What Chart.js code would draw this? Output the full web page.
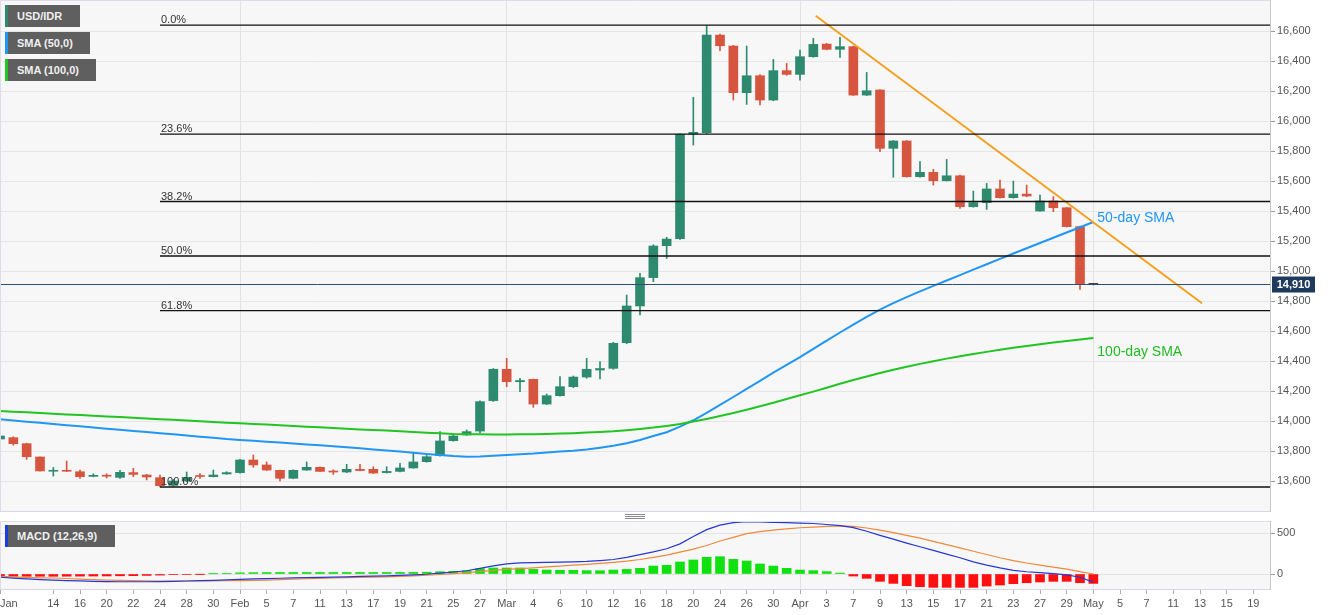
<!DOCTYPE html>
<html><head><meta charset="utf-8">
<script src="https://cdn.jsdelivr.net/npm/chart.js@4.4.0/dist/chart.umd.min.js"></script>
<style>
html,body{margin:0;padding:0;background:#fff;width:1331px;height:615px;overflow:hidden;font-family:"Liberation Sans",Arial,sans-serif;}
#wrap{position:relative;width:1331px;height:615px;}
canvas{position:absolute;left:0;}
#main{top:0;}
#macd{top:512px;}
.tag{position:absolute;left:5px;height:22px;line-height:22px;background:#5f5f5f;color:#f0f0f0;font-weight:bold;font-size:11px;padding-left:9px;box-sizing:border-box;border-left:3px solid;white-space:nowrap;z-index:2;}
#handle{position:absolute;left:625px;top:514px;width:20px;height:5px;background:repeating-linear-gradient(#8a8a8a 0 1px,transparent 1px 2px);}
</style></head>
<body><div id="wrap">
<canvas id="main" width="1331" height="512"></canvas>
<canvas id="macd" width="1331" height="103"></canvas>
<div class="tag" style="top:5px;width:75px;border-color:#2e8a6e">USD/IDR</div>
<div class="tag" style="top:32px;width:85px;border-color:#2196f3">SMA (50,0)</div>
<div class="tag" style="top:59px;width:91px;border-color:#22c422">SMA (100,0)</div>
<div class="tag" style="top:525px;width:110px;border-color:#1b3de0">MACD (12,26,9)</div>
<div id="handle"></div>
</div>
<script>
// ---------- DATA (trading-day index 0 = Jan 8, 2020) ----------
const candleOpen = [13880,13889,13849,13760,13665,13668,13662,13631,13636,13624,13656,13640,13622,13571,13600,13636,13629,13647,13656,13740,13707,13671,13618,13673,13691,13664,13660,13678,13678,13656,13664,13687,13729,13769,13869,13907,13933,14136,14345,14262,14278,14113,14169,14229,14293,14340,14351,14522,14767,14956,15169,15215,15913,15922,16573,16500,16189,16302,16140,16336,16311,16429,16513,16478,16496,16173,16207,15818,15867,15629,15658,15602,15635,15429,15456,15547,15489,15513,15400,15467,15422,15296,14910];
const candleHigh = [13930,13895,13852,13762,13690,13733,13673,13648,13648,13671,13684,13644,13640,13610,13660,13650,13673,13662,13745,13773,13727,13673,13675,13727,13695,13675,13711,13711,13695,13695,13718,13784,13770,13929,13905,13940,14135,14350,14418,14285,14280,14180,14296,14300,14418,14396,14525,14840,14984,15175,15225,15915,16158,16635,16580,16505,16500,16310,16411,16384,16473,16551,16518,16558,16500,16324,16210,15870,15870,15729,15678,15744,15640,15533,15584,15607,15600,15573,15507,15496,15425,15300,14912];
const candleLow = [13875,13838,13744,13665,13633,13663,13618,13628,13620,13618,13629,13607,13560,13565,13595,13618,13627,13645,13652,13691,13670,13600,13615,13671,13662,13644,13656,13668,13650,13653,13660,13685,13725,13765,13865,13905,13920,14130,14229,14196,14091,14110,14165,14222,14285,14280,14345,14515,14707,14929,15084,15210,15840,15915,16469,16140,16111,16107,16135,16305,16273,16425,16475,16424,16170,16170,15796,15625,15625,15625,15573,15600,15418,15425,15411,15485,15485,15495,15398,15396,15293,14878,14908];
const candleClose = [13900,13849,13762,13667,13668,13665,13629,13634,13632,13658,13644,13627,13569,13600,13624,13630,13640,13656,13740,13707,13673,13618,13671,13691,13664,13660,13678,13670,13653,13664,13687,13727,13762,13867,13900,13929,14129,14345,14262,14270,14113,14169,14229,14293,14345,14350,14518,14767,14956,15167,15213,15911,15925,16573,16502,16189,16302,16140,16336,16311,16429,16511,16478,16496,16173,16202,15818,15867,15629,15658,15602,15635,15429,15456,15547,15489,15513,15500,15467,15422,15296,14913,14910];

const sma50 = [14011,14003,13995,13988,13980,13972,13965,13957,13949,13942,13934,13926,13918,13911,13903,13895,13888,13880,13874,13868,13862,13856,13850,13844,13838,13832,13825,13818,13810,13803,13796,13788,13780,13773,13766,13762,13764,13768,13773,13778,13783,13790,13796,13801,13810,13822,13835,13852,13873,13900,13925,13962,14005,14055,14107,14160,14214,14268,14322,14374,14426,14481,14536,14590,14643,14694,14742,14786,14826,14864,14901,14937,14973,15009,15045,15081,15117,15152,15187,15222,15257,15292,15327];
const sma100 = [14067,14062,14058,14053,14049,14044,14040,14035,14030,14026,14021,14017,14012,14008,14003,13998,13994,13989,13985,13980,13976,13971,13967,13962,13958,13953,13949,13944,13940,13936,13931,13927,13922,13918,13914,13912,13911,13910,13910,13911,13912,13914,13916,13919,13923,13927,13932,13939,13947,13956,13967,13980,13996,14014,14033,14053,14075,14098,14122,14147,14172,14196,14222,14248,14273,14297,14320,14342,14362,14381,14399,14416,14432,14447,14461,14475,14488,14500,14512,14523,14533,14543,14553];

const macdLine = [-40,-50,-60,-68,-74,-80,-85,-90,-94,-95,-95,-95,-94,-90,-86,-82,-78,-72,-65,-60,-56,-52,-48,-44,-41,-37,-34,-30,-26,-22,-17,-11,-3,10,25,40,70,100,125,138,141,143,146,150,155,165,178,205,238,272,310,370,460,545,600,630,643,640,635,630,625,620,608,594,570,525,475,428,380,335,290,245,200,150,110,75,45,28,16,5,-10,-40,-100];
const signalLine = [-30,-36,-42,-47,-49,-55,-62,-68,-74,-77,-80,-83,-86,-86,-86,-86,-86,-83,-80,-77,-74,-69,-64,-58,-53,-49,-45,-41,-37,-34,-29,-22,-15,-6,5,17,29,45,56,65,76,88,98,108,118,130,143,158,178,205,232,268,305,350,405,450,495,520,540,555,568,577,585,590,585,565,540,508,475,440,400,360,320,280,240,200,165,135,110,85,60,30,0];
const macdHist = [-25,-27,-28,-28,-28,-27,-26,-25,-24,-22,-20,-17,-13,-8,-5,-2,3,8,14,17,18,19,19,19,19,19,19,19,19,19,19,20,22,28,33,41,66,74,74,74,57,49,45,45,41,41,49,57,70,98,107,148,172,205,213,180,160,123,98,70,49,41,29,12,-25,-53,-90,-115,-143,-156,-164,-164,-164,-164,-148,-135,-119,-107,-98,-90,-90,-107,-115];

const xTickDays = [0,4,6,8,10,12,14,16,18,20,22,24,26,28,30,32,34,36,38,40,42,44,46,48,50,52,54,56,58,60,62,64,66,68,70,72,74,76,78,80,82,84,86,88,90,92,94];
const xTickLabels = ['Jan','14','16','20','22','24','28','30','Feb','5','7','11','13','17','19','21','25','27','Mar','4','6','10','12','16','18','20','24','26','30','Apr','3','7','9','13','15','17','21','23','27','29','May','5','7','11','13','15','19'];
const monthStarts = [18,38,60,82];
const yTickValues = [13600,13800,14000,14200,14400,14600,14800,15000,15200,15400,15600,15800,16000,16200,16400,16600];
const macdTickValues = [0,500];

const fibHigh = 16640, fibLow = 13560, fibStartDay = 12;
const fibRatios = [0,0.236,0.382,0.5,0.618,1];
const fibLabels = ['0.0%','23.6%','38.2%','50.0%','61.8%','100.0%'];
const trendDays = [61.18,90.15];
const trendValues = [16702,14785];
const lastPrice = 14910;
const lastPriceLabel = '14,910';
const smaLabels = ['50-day SMA','100-day SMA'];

// ---------- RANGES ----------
const xMin = 0, xMax = 95.25;
const yMin = 13400, yMax = 16807;
const macdMin = -184, macdMax = 651;

// ---------- CHART ----------
Chart.defaults.font.family = '"Liberation Sans", Arial, sans-serif';
const GREEN = '#2e8a6e', RED = '#d6553f', DOJI = '#1a1a1a';
const candleColor = i => candleClose[i] > candleOpen[i] ? GREEN : (candleClose[i] < candleOpen[i] ? RED : DOJI);
const days = candleOpen.map((_, i) => i);
const noPad = s => { s.paddingTop = 0; s.paddingBottom = 0; s.paddingLeft = 0; s.paddingRight = 0; };

const panelPlugin = {
  id: 'panel',
  beforeDraw(chart) {
    const {ctx, chartArea: a} = chart;
    ctx.save();
    ctx.fillStyle = '#f7f7f8';
    ctx.fillRect(a.left, a.top, a.right - a.left, a.bottom - a.top);
    ctx.restore();
  },
  afterDraw(chart) {
    const {ctx, chartArea: a} = chart;
    ctx.save();
    ctx.strokeStyle = '#dcdde8'; ctx.lineWidth = 1;
    ctx.beginPath();
    ctx.moveTo(a.left + 0.5, a.bottom); ctx.lineTo(a.left + 0.5, a.top + 0.5); ctx.lineTo(a.right, a.top + 0.5);
    ctx.stroke();
    ctx.restore();
  }
};

const notesPlugin = {
  id: 'notes',
  afterDraw(chart) {
    const {ctx, chartArea: a, scales: {x, y}} = chart;
    ctx.save();
    ctx.font = '11px "Liberation Sans", Arial, sans-serif';
    ctx.fillStyle = '#333'; ctx.textAlign = 'left'; ctx.textBaseline = 'alphabetic';
    fibRatios.forEach((r, i) => {
      const lvl = fibHigh - r * (fibHigh - fibLow);
      ctx.fillText(fibLabels[i], x.getPixelForValue(fibStartDay) + 1, y.getPixelForValue(lvl) - 2);
    });
    const last = sma50.length - 1;
    ctx.font = '14px "Liberation Sans", Arial, sans-serif';
    ctx.fillStyle = '#2196f3';
    ctx.fillText(smaLabels[0], x.getPixelForValue(last) + 4, y.getPixelForValue(sma50[last]));
    ctx.fillStyle = '#22bb22';
    ctx.fillText(smaLabels[1], x.getPixelForValue(last) + 4, y.getPixelForValue(sma100[last]) + 18);
    const py = y.getPixelForValue(lastPrice);
    ctx.fillStyle = '#1e3a5c';
    ctx.fillRect(a.right + 2, py - 8, 43, 16);
    ctx.fillStyle = '#fff'; ctx.font = 'bold 11px "Liberation Sans", Arial, sans-serif';
    ctx.textAlign = 'center'; ctx.textBaseline = 'middle';
    ctx.fillText(lastPriceLabel, a.right + 2 + 21.5, py + 0.5);
    ctx.restore();
  }
};

const lineDs = (data, color, width, order) => ({
  type: 'line', data, borderColor: color, borderWidth: width, pointRadius: 0,
  fill: false, tension: 0, order
});

const fibDatasets = fibRatios.map(r => {
  const lvl = fibHigh - r * (fibHigh - fibLow);
  return lineDs([{x: fibStartDay, y: lvl}, {x: xMax, y: lvl}], '#111', 1.3, 0);
});

new Chart(document.getElementById('main'), {
  type: 'bar',
  data: {
    datasets: [
      {type: 'bar', data: days.map(i => ({x: i, y: [candleLow[i], candleHigh[i]]})),
       backgroundColor: days.map(candleColor), barThickness: 1, grouped: false, order: 3},
      {type: 'bar', data: days.map(i => ({x: i, y: [candleOpen[i], candleClose[i]]})),
       backgroundColor: days.map(candleColor), barThickness: 9, minBarLength: 1, grouped: false, order: 2},
      lineDs(days.map(i => ({x: i, y: sma100[i]})), '#22c422', 2, 1),
      lineDs(days.map(i => ({x: i, y: sma50[i]})), '#2196f3', 2, 1),
      ...fibDatasets,
      lineDs([{x: xMin, y: lastPrice}, {x: xMax, y: lastPrice}], '#2d4f75', 1, 0),
      lineDs(trendDays.map((d, i) => ({x: d, y: trendValues[i]})), '#f5a020', 2, 0)
    ]
  },
  options: {
    responsive: false, animation: false,
    layout: {padding: {top: 0, left: 0, right: 0, bottom: 0}, autoPadding: false},
    plugins: {legend: {display: false}, tooltip: {enabled: false}},
    scales: {
      x: {type: 'linear', min: xMin, max: xMax, offset: false,
        afterBuildTicks: s => { s.ticks = monthStarts.map(v => ({value: v})); },
        afterFit: s => { s.height = 1; noPad(s); },
        ticks: {display: false},
        grid: {color: '#e1e1e6', drawTicks: false, offset: false},
        border: {display: true, color: '#d6d7e4'}},
      y: {position: 'right', min: yMin, max: yMax,
        afterBuildTicks: s => { s.ticks = yTickValues.map(v => ({value: v})); },
        afterFit: s => { s.width = 61; noPad(s); },
        ticks: {color: '#555', font: {size: 11}, padding: 2,
          callback: v => Number(v).toLocaleString('en-US')},
        grid: {color: '#e6e6e8', tickLength: 5, tickColor: '#999'},
        border: {color: '#c8c8c8'}}
    }
  },
  plugins: [panelPlugin, notesPlugin]
});

new Chart(document.getElementById('macd'), {
  type: 'bar',
  data: {
    datasets: [
      {type: 'bar', data: days.map(i => ({x: i, y: macdHist[i]})),
       backgroundColor: days.map(i => macdHist[i] >= 0 ? '#11e011' : '#ff1010'),
       barThickness: 9, grouped: false, order: 2},
      lineDs(days.map(i => ({x: i, y: signalLine[i]})), '#f0883a', 1.2, 1),
      lineDs(days.map(i => ({x: i, y: macdLine[i]})), '#2338d4', 1.2, 0)
    ]
  },
  options: {
    responsive: false, animation: false,
    layout: {padding: {top: 9, left: 0, right: 0, bottom: 0}, autoPadding: false},
    plugins: {legend: {display: false}, tooltip: {enabled: false}},
    scales: {
      x: {type: 'linear', min: xMin, max: xMax, offset: false,
        afterBuildTicks: s => { s.ticks = xTickDays.map(v => ({value: v})).concat([{value: xMax}]); },
        afterFit: s => { s.height = 26; noPad(s); },
        ticks: {align: 'inner', autoSkip: false, maxRotation: 0, color: '#555', font: {size: 11}, padding: 3,
          callback: (v, i) => i < xTickLabels.length ? xTickLabels[i] : ''},
        grid: {offset: false, tickLength: 5,
          color: c => (c.tick && monthStarts.includes(c.tick.value)) ? '#e1e1e6' : 'rgba(0,0,0,0)',
          tickColor: c => c.index < xTickLabels.length ? '#aaa' : 'rgba(0,0,0,0)'},
        border: {display: true, color: '#d6d7e4'}},
      y: {position: 'right', min: macdMin, max: macdMax,
        afterBuildTicks: s => { s.ticks = macdTickValues.map(v => ({value: v})); },
        afterFit: s => { s.width = 61; noPad(s); },
        ticks: {color: '#555', font: {size: 11}, padding: 2},
        grid: {color: '#e3e3e6', tickLength: 5, tickColor: '#999'},
        border: {color: '#c8c8c8'}}
    }
  },
  plugins: [panelPlugin]
});
</script>
</body></html>
